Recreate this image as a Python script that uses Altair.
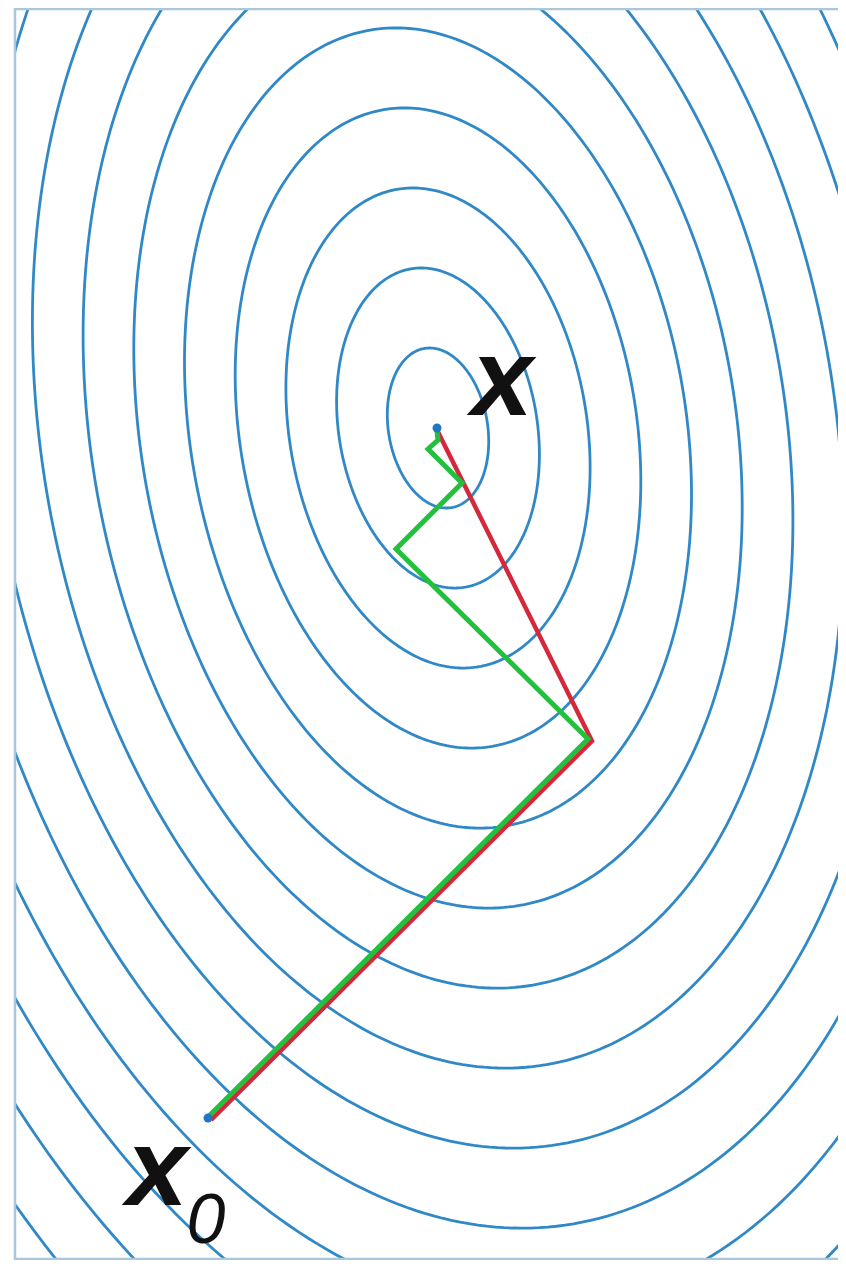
import numpy as np
import pandas as pd
import altair as alt

# Quadratic form f(X, Y) = A X^2 + 2 B X Y + C Y^2 (units: 1 = 50 px, centre at origin, Y up)
FORM_A = 1.0
FORM_B = 0.105
FORM_C = 0.4015
CONTOUR_LEVELS = [1, 2, 3, 4, 5, 6, 7, 8, 9, 10, 11, 12, 13, 14, 15]  # contours f = k^2

# Steepest descent path (green)
SD_X = [-4.60, 3.00, -0.84, 0.48, -0.20, 0.00, -0.02]
SD_Y = [-13.78, -6.22, -2.42, -1.10, -0.42, -0.24, -0.06]
# Conjugate gradient path (red)
CG_X = [-4.54, 3.08, -0.02]
CG_Y = [-13.84, -6.26, -0.04]
# Points: start and optimum
PT_X = [-4.60, -0.02]
PT_Y = [-13.80, 0.00]
# Labels
LBL_TEXT = ["x", "x"]
LBL_X = [1.28, -5.62]
LBL_Y = [0.26, -15.54]
SUB_TEXT = ["0"]
SUB_X = [-4.64]
SUB_Y = [-16.30]

XDOM = [-8.48, 8.0]
YDOM = [-16.64, 8.4]
W, H = 824, 1252

# contour ellipses
M = np.array([[FORM_A, FORM_B], [FORM_B, FORM_C]])
lam, V = np.linalg.eigh(M)
t = np.linspace(0, 2 * np.pi, 361)
rows = []
for k in CONTOUR_LEVELS:
    u = np.vstack([np.cos(t) / np.sqrt(lam[0]), np.sin(t) / np.sqrt(lam[1])]) * k
    p = V @ u
    for i in range(len(t)):
        rows.append({"level": k, "i": i, "x": p[0, i], "y": p[1, i]})
contours = pd.DataFrame(rows)

xs = alt.Scale(domain=XDOM, nice=False, zero=False)
ys = alt.Scale(domain=YDOM, nice=False, zero=False)
X = lambda: alt.X("x:Q", scale=xs, axis=None)
Y = lambda: alt.Y("y:Q", scale=ys, axis=None)

cont = alt.Chart(contours).mark_line(
    color="#3089c6", strokeWidth=2.8, clip=True
).encode(x=X(), y=Y(), detail="level:N", order="i:Q")

cg = alt.Chart(pd.DataFrame({"x": CG_X, "y": CG_Y, "i": range(len(CG_X))})).mark_line(
    color="#d6283c", strokeWidth=4.5, strokeJoin="miter"
).encode(x=X(), y=Y(), order="i:Q")

sd = alt.Chart(pd.DataFrame({"x": SD_X, "y": SD_Y, "i": range(len(SD_X))})).mark_line(
    color="#22c03c", strokeWidth=5, strokeJoin="miter"
).encode(x=X(), y=Y(), order="i:Q")

pts = alt.Chart(pd.DataFrame({"x": PT_X, "y": PT_Y})).mark_circle(
    color="#1f77c4", size=80, opacity=1
).encode(x=X(), y=Y())

lbl = alt.Chart(pd.DataFrame({"x": LBL_X, "y": LBL_Y, "t": LBL_TEXT})).mark_text(
    font="Liberation Sans", fontSize=110, fontWeight="bold", fontStyle="italic",
    color="#111111", align="center", baseline="alphabetic"
).encode(x=X(), y=Y(), text="t:N")

sub = alt.Chart(pd.DataFrame({"x": SUB_X, "y": SUB_Y, "t": SUB_TEXT})).mark_text(
    font="Liberation Sans", fontSize=70, fontStyle="italic",
    color="#111111", align="center", baseline="alphabetic"
).encode(x=X(), y=Y(), text="t:N")

frame_df = pd.DataFrame({"k": [0]})
left = alt.Chart(frame_df).mark_rule(color="#a9c8dd", strokeWidth=2.5).encode(
    x=alt.value(1), y=alt.value(0), y2=alt.value(H))
top = alt.Chart(frame_df).mark_rule(color="#a9c8dd", strokeWidth=2.5).encode(
    x=alt.value(0), x2=alt.value(W), y=alt.value(1))
bottom = alt.Chart(frame_df).mark_rule(color="#a9c8dd", strokeWidth=2.5).encode(
    x=alt.value(0), x2=alt.value(W), y=alt.value(H - 1))

chart = alt.layer(cont, cg, sd, pts, lbl, sub, left, top, bottom).properties(
    width=W, height=H,
    padding={"left": 6, "top": 0, "right": 0, "bottom": 0},
    autosize=alt.AutoSizeParams(type="none"),
).configure_view(stroke=None)

chart.save("out.html", embed_options={"renderer": "svg", "actions": False})
